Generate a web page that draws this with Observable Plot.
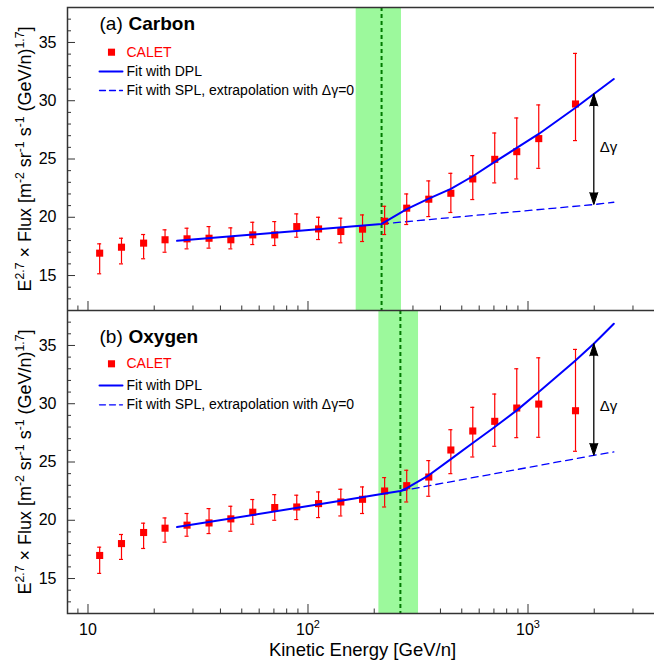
<!DOCTYPE html>
<html>
<head>
<meta charset="utf-8">
<script src="https://cdn.jsdelivr.net/npm/d3@7"></script>
<script src="https://cdn.jsdelivr.net/npm/@observablehq/plot@0.6"></script>
<style>
  html, body { margin: 0; padding: 0; background: white; }
  #chart { width: 654px; overflow: hidden; }
  #chart svg { display: block; }
</style>
</head>
<body>
<div id="chart"></div>
<script>
// ---------- data ----------
const energy = [11.3, 14.2, 17.9, 22.4, 28.2, 35.5, 44.6, 56.1, 70.6, 88.9, 111.7,
                141, 177, 223, 281, 354, 446, 561, 706, 889, 1119, 1644];

const carbonFlux = [16.92, 17.43, 17.78, 18.07, 18.15, 18.20, 18.07, 18.49, 18.49, 19.20, 19.00,
                    18.78, 18.98, 19.66, 20.78, 21.55, 22.06, 23.29, 24.97, 25.63, 26.75, 29.72];
const carbonLo   = [15.15, 16.00, 16.44, 17.00, 17.29, 17.35, 17.29, 17.66, 17.58, 18.29, 18.09,
                    17.81, 17.92, 18.52, 19.38, 20.06, 20.41, 21.52, 22.95, 23.29, 24.20, 26.58];
const carbonHi   = [17.72, 18.20, 18.52, 18.92, 19.06, 19.20, 19.09, 19.57, 19.63, 20.29, 20.00,
                    19.92, 20.20, 20.94, 22.00, 23.12, 23.77, 25.29, 27.23, 28.52, 29.64, 34.06];

const oxygenFlux = [16.98, 18.00, 18.95, 19.32, 19.58, 19.77, 20.12, 20.69, 21.09, 21.14, 21.43,
                    21.57, 21.80, 22.51, 22.97, 23.71, 26.03, 27.66, 28.49, 29.63, 29.97, 29.40];
const oxygenLo   = [15.44, 16.64, 17.58, 18.12, 18.63, 18.86, 19.06, 19.66, 20.00, 20.06, 20.23,
                    20.37, 20.58, 21.14, 21.57, 22.06, 24.00, 25.43, 26.35, 27.09, 27.12, 25.92];
const oxygenHi   = [17.69, 18.78, 19.75, 20.20, 20.58, 21.00, 21.20, 21.78, 22.20, 22.15, 22.43,
                    22.66, 22.86, 23.66, 24.29, 25.12, 27.77, 29.69, 30.83, 33.00, 33.94, 34.66];

// fit curves
const carbonDplE = [25.4, 126, 216, 281, 354, 446, 561, 706, 889, 1119, 1644, 1991, 2455];
const carbonDplF = [17.98, 19.06, 19.43, 20.70, 21.60, 22.43, 23.52, 24.75, 25.95, 27.15, 29.40, 30.58, 31.86];
const carbonSplE = [216, 1991, 2455];
const carbonSplF = [19.43, 21.09, 21.29];

const oxygenDplE = [25.4, 126, 223, 263, 281, 354, 446, 561, 706, 889, 1119, 1644, 1991, 2455];
const oxygenDplF = [19.42, 21.52, 22.29, 22.51, 22.75, 23.86, 25.25, 26.63, 28.00, 29.43, 31.00, 33.71, 35.14, 36.86];
const oxygenSplE = [263, 1991, 2455];
const oxygenSplF = [22.51, 25.57, 25.86];

// break energy and its uncertainty band
const carbonBreak = 216, carbonBand = [165.6, 266];
const oxygenBreak = 263, oxygenBand = [210, 318];

// Δγ arrows
const arrowE = 1991;
const carbonArrow = [21.09, 30.58], carbonArrowLabel = 26.0;
const oxygenArrow = [25.57, 35.14], oxygenArrowLabel = 29.77;

// axes
const yMajor = [15, 20, 25, 30, 35];
const yMinor = [13, 14, 16, 17, 18, 19, 21, 22, 23, 24, 26, 27, 28, 29, 31, 32, 33, 34, 36, 37];
const xMajor = [10, 100, 1000];
const xMinor = [9, 20, 30, 40, 50, 60, 70, 80, 90, 200, 300, 400, 500, 600, 700, 800, 900, 2000, 3000];
const xTickLabels = ["10", "10^{2}", "10^{3}"];
const xTitle = "Kinetic Energy [GeV/n]";
const yTitle = "E^{2.7} × Flux [m^{-2} sr^{-1} s^{-1} (GeV/n)^{1.7}]";
const legendLabels = ["CALET", "Fit with DPL", "Fit with SPL, extrapolation with Δγ=0"];

// ---------- style ----------
const FONT = "'Liberation Sans', Arial, Helvetica, sans-serif";
const RED = "#ff0000", BLUE = "#0000ff", GREEN = "#9cf99c", DKGREEN = "#007a00", AX = "#333333";
const W = 654, ML = 67, MR = -3;
const X_DOMAIN = [8.07, 3878];
const Y_DOMAIN = [12, 38];
const FRAME_H = 303;
const FRAME_W = W - ML - MR;

const hline = { draw(context, l) { context.moveTo(0, 0); context.lineTo(l, 0); } };

function panel(cfg) {
  const {tag, name, flux, lo, hi, dplE, dplF, splE, splF, brk, band, arrow, arrowLabel, bottom, lg} = cfg;
  const pts = energy.map((e, i) => ({E: e, F: flux[i], lo: lo[i], hi: hi[i]}));
  const dpl = dplE.map((e, i) => ({E: e, F: dplF[i]}));
  const spl = splE.map((e, i) => ({E: e, F: splF[i]}));
  const arr = [{E: arrowE, lo: arrow[0], hi: arrow[1], lab: arrowLabel}];
  const marginTop = bottom ? 0 : 7;
  const marginBottom = bottom ? 56 : 0;
  const height = FRAME_H + marginTop + marginBottom;
  const T = {lineAnchor: "middle"};

  const marks = [
    Plot.ruleY(yMinor, {y: d => d, stroke: AX, strokeWidth: 1, insetRight: FRAME_W - 4}),
    Plot.ruleY(yMajor, {y: d => d, stroke: AX, strokeWidth: 1, insetRight: FRAME_W - 8}),
    Plot.ruleX(xMinor, {x: d => d, stroke: AX, strokeWidth: 1, insetTop: FRAME_H - 4.5}),
    Plot.ruleX(xMajor, {x: d => d, stroke: AX, strokeWidth: 1, insetTop: FRAME_H - 9}),
    Plot.rect([band], {x1: d => d[0], x2: d => d[1], fill: GREEN}),
    Plot.ruleX([brk], {x: d => d, stroke: DKGREEN, strokeWidth: 2, strokeDasharray: "4,3"}),
    Plot.frame({stroke: AX, strokeWidth: 1.5}),
    Plot.line(spl, {x: "E", y: "F", stroke: BLUE, strokeWidth: 1.3, strokeDasharray: "7,5"}),
    Plot.ruleX(pts, {x: "E", y1: "lo", y2: "hi", stroke: RED, strokeWidth: 1.2}),
    Plot.ruleY(pts, {y: "hi", x1: "E", x2: "E", insetLeft: -2, insetRight: -2, stroke: RED, strokeWidth: 1.2}),
    Plot.ruleY(pts, {y: "lo", x1: "E", x2: "E", insetLeft: -2, insetRight: -2, stroke: RED, strokeWidth: 1.2}),
    Plot.dot(pts, {x: "E", y: "F", symbol: "square", r: 4, fill: RED, stroke: "none"}),
    Plot.line(dpl, {x: "E", y: "F", stroke: BLUE, strokeWidth: 2}),
    // Δγ arrow
    Plot.ruleX(arr, {x: "E", y1: "lo", y2: "hi", stroke: "black", strokeWidth: 1.3}),
    Plot.vector(arr, {x: "E", y: "hi", length: 12, rotate: 0, anchor: "end", shape: "spike", r: 4, fill: "black", stroke: "black", strokeWidth: 1}),
    Plot.vector(arr, {x: "E", y: "lo", length: 12, rotate: 180, anchor: "end", shape: "spike", r: 4, fill: "black", stroke: "black", strokeWidth: 1}),
    Plot.text(arr, {x: "E", y: "lab", text: () => "Δγ", dx: 6, textAnchor: "start", fontSize: 15, ...T}),
    // legend
    Plot.text([tag], {frameAnchor: "top-left", dx: 32, dy: lg[0], textAnchor: "start", fontSize: 19, ...T}),
    Plot.text([name], {frameAnchor: "top-left", dx: 61, dy: lg[0], textAnchor: "start", fontSize: 19, fontWeight: "bold", ...T}),
    Plot.dot([0], {frameAnchor: "top-left", dx: 44, dy: lg[1], symbol: "square", r: 4, fill: RED, stroke: "none"}),
    Plot.text([legendLabels[0]], {frameAnchor: "top-left", dx: 59, dy: lg[1], textAnchor: "start", fontSize: 14, fill: RED, ...T}),
    Plot.vector([0], {frameAnchor: "top-left", dx: 32, dy: lg[2], length: 23, anchor: "start", shape: hline, stroke: BLUE, strokeWidth: 2}),
    Plot.text([legendLabels[1]], {frameAnchor: "top-left", dx: 59, dy: lg[2], textAnchor: "start", fontSize: 14, ...T}),
    Plot.vector([0], {frameAnchor: "top-left", dx: 32, dy: lg[3], length: 23, anchor: "start", shape: hline, stroke: BLUE, strokeWidth: 1.3, strokeDasharray: "6,4"}),
    Plot.text([legendLabels[2]], {frameAnchor: "top-left", dx: 59, dy: lg[3], textAnchor: "start", fontSize: 14, ...T}),
    // axis labels
    Plot.text(yMajor, {y: d => d, text: d => String(d), frameAnchor: "left", dx: -11, textAnchor: "end", fontSize: 16, ...T}),
    Plot.text([yTitle], {frameAnchor: "left", dx: -42, rotate: -90, textAnchor: "middle", fontSize: 18, ...T})
  ];
  if (bottom) {
    marks.push(
      Plot.text(xMajor, {x: d => d, text: xTickLabels, frameAnchor: "bottom", dy: 16, fontSize: 16, ...T}),
      Plot.text([xTitle], {frameAnchor: "bottom", dy: 37, fontSize: 18.5, ...T})
    );
  }
  return Plot.plot({
    width: W, height, marginLeft: ML, marginRight: MR, marginTop, marginBottom,
    style: {fontFamily: FONT, background: "white", color: "black"},
    x: {type: "log", domain: X_DOMAIN, axis: null},
    y: {domain: Y_DOMAIN, axis: null},
    marks
  });
}

function applySuperscripts(root) {
  root.querySelectorAll("text").forEach(el => {
    const s = el.textContent;
    if (!s.includes("^{")) return;
    const fs = parseFloat(getComputedStyle(el).fontSize) || 16;
    const parts = s.split(/(\^\{[^}]*\})/).filter(p => p);
    while (el.firstChild) el.removeChild(el.firstChild);
    let up = false;
    for (const p of parts) {
      const t = document.createElementNS("http://www.w3.org/2000/svg", "tspan");
      if (p.startsWith("^{")) {
        t.textContent = p.slice(2, -1);
        t.setAttribute("font-size", (fs * 0.68).toFixed(1));
        t.setAttribute("dy", (-fs * 0.42).toFixed(1));
        up = true;
      } else {
        t.textContent = p;
        if (up) { t.setAttribute("dy", (fs * 0.42).toFixed(1)); up = false; }
      }
      el.appendChild(t);
    }
  });
}

const chart = document.getElementById("chart");
chart.appendChild(panel({
  tag: "(a)", name: "Carbon", flux: carbonFlux, lo: carbonLo, hi: carbonHi,
  dplE: carbonDplE, dplF: carbonDplF, splE: carbonSplE, splF: carbonSplF,
  brk: carbonBreak, band: carbonBand, arrow: carbonArrow, arrowLabel: carbonArrowLabel,
  bottom: false, lg: [16, 44.7, 64, 83]
}));
chart.appendChild(panel({
  tag: "(b)", name: "Oxygen", flux: oxygenFlux, lo: oxygenLo, hi: oxygenHi,
  dplE: oxygenDplE, dplF: oxygenDplF, splE: oxygenSplE, splF: oxygenSplF,
  brk: oxygenBreak, band: oxygenBand, arrow: oxygenArrow, arrowLabel: oxygenArrowLabel,
  bottom: true, lg: [26, 53.3, 75, 94.3]
}));
applySuperscripts(chart);
</script>
</body>
</html>
